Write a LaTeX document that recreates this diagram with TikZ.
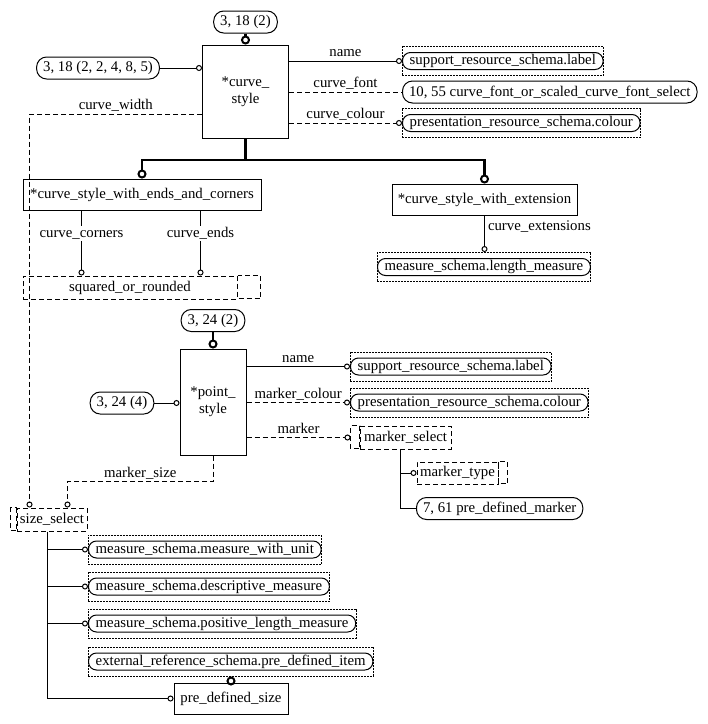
\documentclass[tikz,border=0pt]{standalone}
\usepackage{fontspec}
\setmainfont{Liberation Serif}
\usetikzlibrary{arrows.meta,fit}
\begin{document}
\begin{tikzpicture}[x=1pt, y=-1pt, line width=1pt, font=\fontsize{14.8}{17}\selectfont,
  entity/.style={draw, rectangle, inner sep=0pt, align=center},
  pageref/.style={draw, rounded corners=10pt, minimum height=22pt, inner xsep=6.5pt, inner ysep=0pt},
  schemaref/.style={draw, rounded corners=8pt, minimum height=17pt, inner xsep=7.2pt, inner ysep=0pt},
  refbox/.style={draw, dash pattern=on 2pt off 1pt, inner xsep=0pt, inner ysep=5.5pt},
  typebox/.style={draw, dsh, inner sep=0pt, minimum height=23pt},
  dsh/.style={dash pattern=on 5pt off 3pt},
  opt/.style={-{Circle[open, length=6pt, line width=1pt]}},
  sub/.style={line width=2.6pt, -{Circle[open, length=9pt, line width=2pt]}},
  attr/.style={anchor=base, yshift=4.5pt, inner sep=0pt},
  vattr/.style={fill=white, inner sep=1pt, text height=10pt, text depth=3pt}]
\useasboundingbox[fill=white] (0,0) rectangle (708,724);
% curve_style
\node[pageref] (cs-ref) at (245.5,22) {3, 18 (2)};
\node[pageref] (cs-page) at (98,68) {3, 18 (2, 2, 4, 8, 5)};
\node[entity, minimum width=86pt, minimum height=93pt] (cs) at (245.5,91.5) {*curve\_\\style};
\node[schemaref, anchor=west] (lbl1) at (402,61) {support\_resource\_schema.label};
\node[refbox, fit=(lbl1)] (lbl1-box) {};
\node[pageref, anchor=west] (font) at (402,92) {10, 55 curve\_font\_or\_scaled\_curve\_font\_select};
\node[schemaref, anchor=west] (col1) at (402,123) {presentation\_resource\_schema.colour};
\node[refbox, fit=(col1)] (col1-box) {};
\node[entity, minimum width=238pt, minimum height=31pt] (ends) at (142,194.5) {*curve\_style\_with\_ends\_and\_corners};
\node[entity, minimum width=185pt, minimum height=31pt] (ext) at (484.5,199.5) {*curve\_style\_with\_extension};
\node[schemaref, anchor=west] (len) at (377,267) {measure\_schema.length\_measure};
\node[refbox, fit=(len)] (len-box) {};
\node[typebox, minimum width=214pt] (sor) at (130,287.5) {squared\_or\_rounded};
\draw[dsh] (sor.north east) rectangle ++(23,23);

\draw[sub] (cs-ref.south) -- (cs.north);
\draw[opt] (cs-page.east) -- (cs-page.east -| cs.west);
\draw[opt] (cs.east |- lbl1) -- node[midway, attr] {name} (lbl1.west);
\draw[dsh] (cs.east |- font) -- node[midway, attr] {curve\_font} (font.west);
\draw[dsh, opt] (cs.east |- col1) -- node[midway, attr] {curve\_colour} (col1.west);
\coordinate (cs-fork) at (245.5,160);
\draw[sub] (cs.south) -- (cs-fork) -| (ends.north);
\draw[sub] (cs-fork) -| (ext.north);
\draw[opt] (ext.south) -- node[pos=0.42, anchor=base west, xshift=3pt, inner sep=0pt] {curve\_extensions} (ext.south |- len-box.north);
\draw[opt] ([xshift=59pt]ends.south west) -- node[pos=0.36, vattr] {curve\_corners} ([xshift=59pt]ends.south west |- sor.north);
\draw[opt] ([xshift=178pt]ends.south west) -- node[pos=0.36, vattr] {curve\_ends} ([xshift=178pt]ends.south west |- sor.north);

% point_style
\node[pageref] (ps-ref) at (213,320.5) {3, 24 (2)};
\node[pageref] (ps-page) at (122,403) {3, 24 (4)};
\node[entity, minimum width=66pt, minimum height=106pt] (ps) at (213,402) {*point\_\\style};
\node[schemaref, anchor=west] (lbl2) at (350,366.5) {support\_resource\_schema.label};
\node[refbox, fit=(lbl2)] (lbl2-box) {};
\node[schemaref, anchor=west] (col2) at (350,402.5) {presentation\_resource\_schema.colour};
\node[refbox, fit=(col2)] (col2-box) {};
\node[typebox, minimum width=91pt] (ms) at (405.5,437.5) {marker\_select};
\draw[dsh] (ms.north west) rectangle ++(-9,23);
\node[typebox, minimum width=81pt, minimum height=22pt] (mt) at (457.5,473) {marker\_type};
\draw[dsh] (mt.north east) rectangle ++(9,22);
\node[pageref, anchor=west] (pdm) at (416,508.5) {7, 61 pre\_defined\_marker};

\draw[sub] (ps-ref.south) -- (ps.north);
\draw[opt] (ps-page.east) -- (ps-page.east -| ps.west);
\draw[opt] (ps.east |- lbl2) -- node[midway, attr] {name} (lbl2.west);
\draw[dsh, opt] (ps.east |- col2) -- node[midway, attr] {marker\_colour} (col2.west);
\draw[dsh, opt] (ps.east |- ms) -- node[midway, attr] {marker} ([xshift=-9pt]ms.west);
\draw ([xshift=41pt]ms.south west) |- (pdm.west);
\draw[opt] ([xshift=41pt]ms.south west |- mt) -- (mt.west);

% size_select
\node[typebox, minimum width=70pt] (ss) at (52,519.5) {size\_select};
\draw[dsh] (ss.north west) rectangle ++(-6,23);
\node[schemaref, anchor=west] (mwu) at (88,549.5) {measure\_schema.measure\_with\_unit};
\node[refbox, fit=(mwu)] (mwu-box) {};
\node[schemaref, anchor=west] (dm) at (88,586.5) {measure\_schema.descriptive\_measure};
\node[refbox, fit=(dm)] (dm-box) {};
\node[schemaref, anchor=west] (plm) at (88,623.5) {measure\_schema.positive\_length\_measure};
\node[refbox, fit=(plm)] (plm-box) {};
\node[schemaref, anchor=west] (pdi) at (88,661.5) {external\_reference\_schema.pre\_defined\_item};
\node[refbox, fit=(pdi)] (pdi-box) {};
\node[entity, minimum width=114pt, minimum height=31pt] (pds) at (231,698.5) {pre\_defined\_size};

\draw[dsh, opt] ([yshift=-22.5pt]cs.west) -| node[pos=0.25, attr] {curve\_width} ([xshift=13pt]ss.north west);
\draw[dsh, opt] (ps.south) -- ++(0,26) -| node[pos=0.25, attr] {marker\_size} ([xshift=51pt]ss.north west);
\draw[opt] ([xshift=31pt]ss.south west) |- (pds.west);
\draw[opt] ([xshift=31pt]ss.south west |- mwu) -- (mwu.west);
\draw[opt] ([xshift=31pt]ss.south west |- dm) -- (dm.west);
\draw[opt] ([xshift=31pt]ss.south west |- plm) -- (plm.west);
\draw[sub] (pds.north) -- (pds.north |- pdi-box.south);
\end{tikzpicture}
\end{document}
